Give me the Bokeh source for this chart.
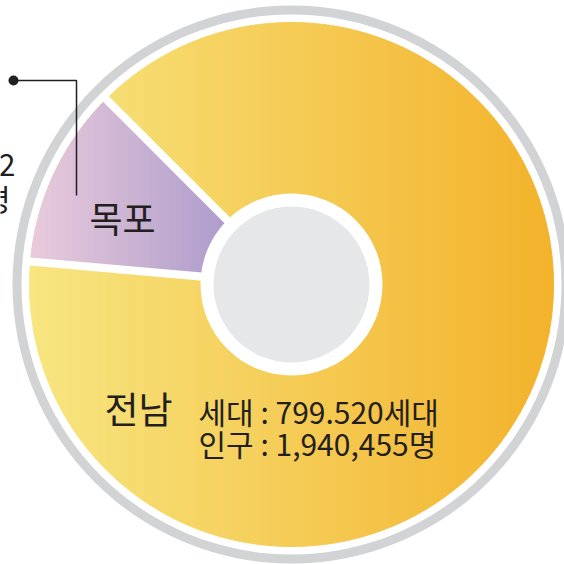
import numpy as np
from bokeh.plotting import figure
from bokeh.models import Range1d
from bokeh.core.properties import value
from bokeh.embed import file_html
from bokeh.resources import INLINE

# ---- data ----
regions = ["전남", "목포"]
region_share = [88.9, 11.1]          # percent of the circle (목포 slice is part of 전남)
info_jeonnam = ["세대 : 799.520세대", "인구 : 1,940,455명"]
mokpo_tail = ["2", "명"]             # visible tails of the cropped 목포 labels

# ---- layout / style ----
W = H = 564
MOKPO_START_DEG = 135.0
R_PIE = 262
R_WHITE = 91
R_HOLE = 78
RING_IN, RING_OUT = 270, 279
FONT = "Noto Sans CJK KR"
TXT = "#231f20"
Y_LEFT, Y_RIGHT = "#f7e681", "#f3b22b"
P_LEFT, P_RIGHT = "#e9cbdc", "#9a8dc5"


def hex2rgb(h):
    h = h.lstrip("#")
    return np.array([int(h[i:i + 2], 16) for i in (0, 2, 4)], dtype=float)


def mix(c1, c2, t):
    c = hex2rgb(c1) * (1 - t) + hex2rgb(c2) * t
    return "#%02x%02x%02x" % tuple(int(round(v)) for v in c)


def clip_band(poly, x0, x1):
    def clip(pts, inside, cut):
        out = []
        n = len(pts)
        for i in range(n):
            cur, prev = pts[i], pts[i - 1]
            if inside(cur):
                if not inside(prev):
                    out.append(cut(prev, cur))
                out.append(cur)
            elif inside(prev):
                out.append(cut(prev, cur))
        return out

    def cutx(c):
        def f(p, q):
            t = (c - p[0]) / (q[0] - p[0])
            return (c, p[1] + t * (q[1] - p[1]))
        return f

    pts = clip(poly, lambda p: p[0] >= x0, cutx(x0))
    if not pts:
        return []
    pts = clip(pts, lambda p: p[0] <= x1, cutx(x1))
    return pts


def gradient_strips(poly, c_left, c_right, n):
    xs_all = [p[0] for p in poly]
    xmin, xmax = min(xs_all), max(xs_all)
    edges = np.linspace(xmin, xmax, n + 1)
    xs, ys, cols = [], [], []
    for i in range(n):
        pts = clip_band(poly, edges[i], edges[i + 1])
        if len(pts) < 3:
            continue
        xs.append([p[0] for p in pts])
        ys.append([p[1] for p in pts])
        cols.append(mix(c_left, c_right, (i + 0.5) / n))
    return xs, ys, cols


p = figure(width=W, height=H, output_backend="svg", toolbar_location=None,
           x_range=Range1d(-291, 273), y_range=Range1d(-280, 284),
           min_border=0, outline_line_color=None)
p.axis.visible = False
p.grid.visible = False
p.background_fill_color = "white"
p.border_fill_color = "white"

# outer grey ring
p.annulus(x=0, y=0, inner_radius=RING_IN, outer_radius=RING_OUT,
          fill_color="#d1d3d4", line_color=None)

# 전남 : whole disc with horizontal gradient
th = np.linspace(0, 2 * np.pi, 721)[:-1]
disc = [(R_PIE * np.cos(t), R_PIE * np.sin(t)) for t in th]
xs, ys, cols = gradient_strips(disc, Y_LEFT, Y_RIGHT, 110)
p.patches(xs, ys, fill_color=cols, line_color=cols, line_width=1)

# 목포 slice
a0 = np.deg2rad(MOKPO_START_DEG)
a1 = a0 + np.deg2rad(region_share[1] * 3.6)
arc = np.linspace(a0, a1, 120)
wedge = [(0.0, 0.0)] + [(R_PIE * np.cos(t), R_PIE * np.sin(t)) for t in arc]
xs, ys, cols = gradient_strips(wedge, P_LEFT, P_RIGHT, 50)
p.patches(xs, ys, fill_color=cols, line_color=cols, line_width=1)

# white separators
p.ray(x=[0, 0], y=[0, 0], length=R_PIE + 6, angle=[a0, a1],
      line_color="white", line_width=8)

# centre hole
p.circle(x=0, y=0, radius=R_WHITE, fill_color="white", line_color=None)
p.circle(x=0, y=0, radius=R_HOLE, fill_color="#e6e7e8", line_color=None)

# leader line for 목포
p.line(x=[-278, -215, -215], y=[204, 204, 89], line_color=TXT, line_width=1.5)
p.scatter(x=[-278], y=[204], size=10, fill_color=TXT, line_color=None)

# labels
p.text(x=[-169], y=[68], text=[regions[1]], text_font=value(FONT),
       text_font_size=value("36px"), text_color=TXT,
       text_align="center", text_baseline="middle")
p.text(x=[-153], y=[-123], text=[regions[0]], text_font=value(FONT),
       text_font_size=value("37px"), text_color=TXT,
       text_align="center", text_baseline="middle")
p.text(x=[-93, -93], y=[-126, -158], text=info_jeonnam, text_font=value(FONT),
       text_font_size=value("30px"), text_color=TXT,
       text_align="left", text_baseline="middle")
p.text(x=[-276, -281], y=[120, 87], text=mokpo_tail, text_font=value(FONT),
       text_font_size=value("30px"), text_color=TXT,
       text_align="right", text_baseline="middle")

open("out.html", "w").write(file_html(p, INLINE))
